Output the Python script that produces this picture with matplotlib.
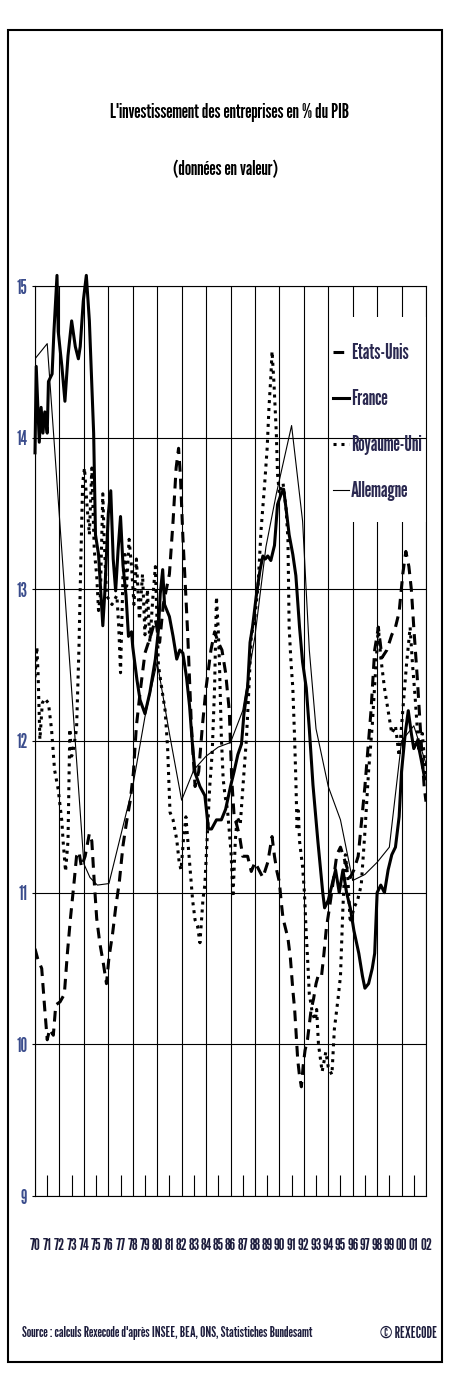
import matplotlib
matplotlib.use("Agg")
import matplotlib.pyplot as plt
from matplotlib.patches import Rectangle

# tall, narrow lettering like the squeezed original
plt.rcParams['font.family'] = ['League Gothic', 'DejaVu Sans']

# values (year as decimal, % of GDP)
us_years = [1970.0, 1970.2, 1970.55, 1970.8, 1971.0, 1971.2, 1971.5, 1971.7, 1972.05, 1972.4,
            1972.65, 1972.9, 1973.2, 1973.4, 1973.6, 1973.8, 1974.1, 1974.45, 1974.65, 1974.85,
            1975.05, 1975.3, 1975.6, 1975.85, 1976.05, 1976.35, 1976.6, 1976.9, 1977.2, 1977.5,
            1977.8, 1978.05, 1978.3, 1978.6, 1979.0, 1979.45, 1979.85, 1980.2, 1980.5, 1981.0,
            1981.3, 1981.55, 1981.75, 1981.9, 1982.1, 1982.35, 1982.5, 1982.8, 1983.1, 1983.4,
            1983.7, 1984.0, 1984.4, 1984.7, 1985.0, 1985.3, 1985.6, 1985.9, 1986.1, 1986.3,
            1986.5, 1986.75, 1987.0, 1987.4, 1987.7, 1988.0, 1988.2, 1988.65, 1989.05, 1989.4,
            1989.6, 1989.8, 1990.0, 1990.15, 1990.3, 1990.7, 1990.9, 1991.1, 1991.25, 1991.35,
            1991.5, 1991.65, 1991.8, 1991.95, 1992.1, 1992.3, 1992.45, 1992.6, 1992.8, 1993.0,
            1993.2, 1993.45, 1993.65, 1993.85, 1994.1, 1994.4, 1994.7, 1995.0, 1995.4, 1995.8,
            1996.1, 1996.45, 1997.0, 1997.5, 1997.8, 1998.1, 1998.4, 1998.8, 1999.2, 1999.5,
            1999.8, 2000.1, 2000.35, 2000.6, 2000.8, 2001.0, 2001.3, 2001.6, 2001.85, 2002.0]
us_values = [10.63, 10.57, 10.5, 10.23, 10.03, 10.1, 10.06, 10.26, 10.28, 10.33,
             10.6, 10.83, 11.07, 11.24, 11.27, 11.17, 11.24, 11.39, 11.34, 11.07,
             10.83, 10.67, 10.53, 10.4, 10.57, 10.73, 10.9, 11.07, 11.31, 11.47,
             11.61, 11.79, 12.1, 12.32, 12.58, 12.69, 12.8, 12.65, 12.9, 13.1,
             13.45, 13.8, 13.93, 13.75, 13.35, 12.95, 12.7, 12.1, 11.7, 11.8,
             12.1, 12.35, 12.6, 12.72, 12.65, 12.6, 12.45, 12.2, 11.75, 11.5,
             11.45, 11.37, 11.24, 11.24, 11.14, 11.2, 11.17, 11.1, 11.2, 11.37,
             11.24, 11.14, 11.07, 10.94, 10.83, 10.7, 10.57, 10.36, 10.23, 10.1,
             9.9, 9.79, 9.72, 9.86, 9.96, 10.03, 10.13, 10.23, 10.3, 10.4,
             10.46, 10.45, 10.6, 10.77, 10.9, 11.07, 11.25, 11.3, 11.2, 11.1,
             11.15, 11.24, 11.7, 12.2, 12.6, 12.75, 12.55, 12.6, 12.7, 12.75,
             12.85, 13.1, 13.25, 13.15, 13.0, 12.75, 12.4, 12.0, 11.7, 11.6]

fr_years = [1970.0, 1970.1, 1970.35, 1970.5, 1970.65, 1970.8, 1971.0, 1971.1, 1971.4, 1971.55,
            1971.8, 1971.9, 1972.2, 1972.45, 1972.7, 1973.0, 1973.3, 1973.55, 1973.7, 1973.95,
            1974.2, 1974.45, 1974.8, 1974.95, 1975.2, 1975.4, 1975.55, 1975.7, 1976.0, 1976.2,
            1976.4, 1976.6, 1976.8, 1977.0, 1977.2, 1977.45, 1977.65, 1977.9, 1978.0, 1978.35,
            1978.6, 1979.0, 1979.4, 1979.85, 1980.1, 1980.25, 1980.45, 1980.6, 1980.8, 1981.0,
            1981.3, 1981.6, 1981.85, 1982.1, 1982.4, 1982.65, 1982.9, 1983.1, 1983.5, 1983.9,
            1984.2, 1984.45, 1984.85, 1985.25, 1985.6, 1986.0, 1986.3, 1986.6, 1986.9, 1987.1,
            1987.4, 1987.6, 1987.8, 1988.1, 1988.4, 1988.65, 1988.85, 1989.05, 1989.3, 1989.6,
            1989.85, 1990.15, 1990.35, 1990.55, 1990.8, 1991.1, 1991.35, 1991.65, 1991.9, 1992.2,
            1992.45, 1992.75, 1993.15, 1993.55, 1993.7, 1994.0, 1994.3, 1994.6, 1994.9, 1995.2,
            1995.5, 1995.8, 1996.1, 1996.5, 1996.8, 1997.0, 1997.3, 1997.6, 1997.8, 1998.0,
            1998.3, 1998.6, 1998.9, 1999.2, 1999.5, 1999.8, 2000.0, 2000.3, 2000.55, 2000.8,
            2001.0, 2001.3, 2001.6, 2001.9]
fr_values = [13.9, 14.47, 13.97, 14.2, 14.03, 14.17, 14.03, 14.37, 14.42, 14.7,
             15.07, 14.7, 14.47, 14.24, 14.54, 14.77, 14.6, 14.52, 14.6, 14.9,
             15.07, 14.77, 14.03, 13.36, 13.23, 12.96, 12.76, 12.96, 13.5, 13.65,
             13.2, 12.99, 13.26, 13.48, 13.16, 12.96, 12.69, 12.72, 12.62, 12.4,
             12.27, 12.18, 12.32, 12.54, 12.73, 12.97, 13.13, 12.9, 12.86, 12.82,
             12.69, 12.54, 12.6, 12.58, 12.42, 12.23, 11.96, 11.79, 11.7, 11.64,
             11.42, 11.42, 11.48, 11.48, 11.55, 11.7, 11.8, 11.91, 11.98, 12.18,
             12.35, 12.65, 12.75, 12.95, 13.12, 13.22, 13.2, 13.22, 13.19, 13.29,
             13.56, 13.63, 13.66, 13.53, 13.36, 13.23, 13.09, 12.75, 12.52, 12.35,
             12.08, 11.71, 11.34, 11.0, 10.9, 10.95, 11.05, 11.15, 11.0, 11.15,
             11.0, 10.9, 10.75, 10.6, 10.45, 10.37, 10.4, 10.5, 10.6, 11.0,
             11.05, 11.0, 11.15, 11.25, 11.3, 11.5, 11.8, 12.05, 12.2, 12.05,
             11.95, 12.0, 11.88, 11.75]

uk_years = [1970.0, 1970.15, 1970.25, 1970.4, 1970.6, 1970.8, 1971.1, 1971.35, 1971.6, 1971.9,
            1972.2, 1972.3, 1972.5, 1972.7, 1972.85, 1973.0, 1973.15, 1973.4, 1973.6, 1973.75,
            1973.9, 1974.05, 1974.25, 1974.45, 1974.65, 1974.85, 1975.05, 1975.2, 1975.35, 1975.55,
            1975.65, 1975.85, 1976.3, 1976.7, 1976.85, 1977.0, 1977.2, 1977.35, 1977.5, 1977.7,
            1977.9, 1978.1, 1978.3, 1978.55, 1978.8, 1979.0, 1979.2, 1979.4, 1979.65, 1979.85,
            1980.0, 1980.1, 1980.35, 1980.65, 1980.85, 1980.95, 1981.05, 1981.3, 1981.6, 1981.8,
            1981.95, 1982.15, 1982.35, 1982.55, 1982.75, 1982.9, 1983.1, 1983.3, 1983.5, 1983.75,
            1983.9, 1984.1, 1984.3, 1984.5, 1984.7, 1984.85, 1985.0, 1985.1, 1985.25, 1985.4,
            1985.55, 1985.75, 1986.05, 1986.2, 1986.4, 1986.55, 1986.8, 1987.0, 1987.3, 1987.45,
            1987.7, 1988.0, 1988.25, 1988.5, 1988.8, 1989.0, 1989.15, 1989.3, 1989.4, 1989.55,
            1989.75, 1989.85, 1990.0, 1990.3, 1990.55, 1990.7, 1990.75, 1990.8, 1990.95, 1991.1,
            1991.25, 1991.35, 1991.45, 1991.55, 1991.65, 1991.9, 1992.05, 1992.2, 1992.35, 1992.45,
            1992.6, 1992.7, 1992.95, 1993.05, 1993.2, 1993.5, 1993.8, 1994.0, 1994.3, 1994.5,
            1994.8, 1995.0, 1995.2, 1995.4, 1995.6, 1995.8, 1996.1, 1996.4, 1996.7, 1997.0,
            1997.3, 1997.6, 1997.9, 1998.1, 1998.3, 1998.6, 1998.9, 1999.2, 1999.5, 1999.8,
            2000.1, 2000.4, 2000.7, 2000.9, 2001.1, 2001.4, 2001.7, 2002.0]
uk_values = [12.42, 12.62, 12.45, 12.01, 12.25, 12.28, 12.25, 12.08, 11.81, 11.68,
             11.47, 11.34, 11.14, 11.34, 12.08, 11.9, 11.95, 12.08, 12.62, 13.19,
             13.7, 13.8, 13.56, 13.36, 13.8, 13.26, 13.09, 12.86, 12.96, 13.63,
             13.36, 12.96, 12.9, 12.96, 12.76, 12.45, 13.09, 13.23, 13.02, 13.33,
             13.15, 12.9, 13.2, 12.8, 13.1, 12.7, 13.0, 12.65, 12.95, 13.15,
             12.75, 12.5, 12.36, 12.2, 11.96, 11.75, 11.53, 11.48, 11.35, 11.2,
             11.15, 11.35, 11.5, 11.3, 11.1, 10.95, 10.82, 10.78, 10.67, 10.96,
             11.05, 11.37, 11.7, 11.92, 12.36, 12.95, 12.73, 12.5, 12.03, 11.75,
             11.64, 11.55, 11.26, 10.97, 11.35, 11.5, 11.45, 11.68, 12.01, 12.25,
             12.69, 12.82, 13.02, 13.39, 13.7, 13.93, 14.2, 14.4, 14.57, 14.37,
             14.03, 13.76, 13.63, 13.7, 13.53, 13.33, 13.02, 12.75, 12.52, 12.35,
             12.01, 11.74, 11.41, 11.54, 11.34, 11.17, 11.0, 10.73, 10.5, 10.33,
             10.26, 10.2, 10.16, 10.23, 10.0, 9.82, 9.95, 9.85, 9.8, 10.1,
             10.3, 10.45, 10.9, 11.25, 11.1, 10.8, 10.9, 10.95, 11.05, 11.4,
             11.8, 12.1, 12.5, 12.75, 12.55, 12.35, 12.2, 12.05, 12.1, 11.9,
             12.2, 12.5, 12.75, 12.5, 12.3, 11.95, 12.05, 11.75]

de_years = [1970, 1971, 1974, 1974.5, 1975.1, 1976.05, 1978, 1979, 1980, 1981,
            1982, 1983, 1984, 1985, 1986, 1987, 1988, 1988.9, 1989.75, 1991,
            1991.9, 1992.45, 1993, 1994, 1995, 1996, 1997, 1998, 1999, 2000,
            2001, 2002]
de_values = [14.52, 14.62, 11.19, 11.1, 11.05, 11.06, 11.7, 12.16, 12.52, 12.05,
             11.61, 11.81, 11.9, 11.96, 11.99, 12.2, 12.69, 13.28, 13.63, 14.08,
             13.45, 12.6, 12.08, 11.7, 11.48, 11.08, 11.12, 11.2, 11.3, 12.0,
             12.1, 11.85]

year_labels = ['70', '71', '72', '73', '74', '75', '76', '77', '78', '79', '80', '81',
               '82', '83', '84', '85', '86', '87', '88', '89', '90', '91', '92', '93',
               '94', '95', '96', '97', '98', '99', '00', '01', '02']

fig = plt.figure(figsize=(4.51, 13.93), dpi=100)
ax = fig.add_axes([35 / 451, 1 - 1196 / 1393, 391 / 451, 910 / 1393])

ax.plot(us_years, us_values, color='black', lw=2.2, ls=(0, (3.5, 2.3)),
        dash_capstyle='butt', label='Etats-Unis')
ax.plot(fr_years, fr_values, color='black', lw=2.2, label='France', clip_on=False)
ax.plot(uk_years, uk_values, color='black', lw=2.2, ls=(0, (1.0, 1.6)),
        dash_capstyle='butt', label='Royaume-Uni')
ax.plot(de_years, de_values, color='black', lw=0.8, label='Allemagne')

ax.set_xlim(1970, 2002)
ax.set_ylim(9, 15)

years = list(range(1970, 2003))
ax.set_xticks(years[::2], labels=year_labels[::2])
ax.set_xticks(years[1::2], labels=year_labels[1::2], minor=True)
ax.set_yticks(range(9, 16))
ax.tick_params(axis='x', which='major', length=0, pad=30, labelsize=12,
               labelcolor='#1c1c3c')
ax.tick_params(axis='x', which='minor', direction='in', length=15, width=0.8,
               pad=30, labelsize=12, labelcolor='#1c1c3c')
ax.tick_params(axis='y', which='major', direction='out', length=2.5, width=0.8,
               pad=3, labelsize=13.5, labelcolor='#3a4c8c')

ax.grid(True, which='major', color='black', lw=0.8)
for s in ax.spines.values():
    s.set_linewidth(0.8)

# white block behind the legend hides the vertical gridlines, not the horizontal ones
ax.xaxis.set_zorder(1.4)
ax.yaxis.set_zorder(1.7)
ax.add_patch(Rectangle((0.7545, 1 - (522 - 286) / 910), 0.2455, (522 - 317) / 910,
                       transform=ax.transAxes, facecolor='white', edgecolor='none',
                       zorder=1.6))

ax.legend(loc='upper left', bbox_to_anchor=(0.762, 0.937), frameon=False,
          fontsize=15, handlelength=0.75, handletextpad=0.1, labelspacing=1.25,
          borderpad=0, borderaxespad=0, labelcolor='#2a2850')

fig.text(0.508, 1 - 112 / 1393, "L'investissement des entreprises en % du PIB",
         ha='center', va='center', fontsize=14.5)
fig.text(0.501, 1 - 170 / 1393, "(données en valeur)",
         ha='center', va='center', fontsize=14.5)

fig.text(22 / 451, 1 - 1333 / 1393,
         "Source : calculs Rexecode d'après INSEE, BEA, ONS, Statistiches Bundesamt",
         ha='left', va='center', fontsize=10.5, style='italic', color='#1c1c3c')
fig.text(437 / 451, 1 - 1333 / 1393, "© REXECODE", ha='right', va='center',
         fontsize=11, color='#1c1c3c')

fig.add_artist(Rectangle((8 / 451, 1 - 1362 / 1393), 434 / 451, 1332 / 1393,
                         transform=fig.transFigure, fill=False, lw=1.5,
                         edgecolor='black'))

fig.savefig('out.png', dpi=100)
